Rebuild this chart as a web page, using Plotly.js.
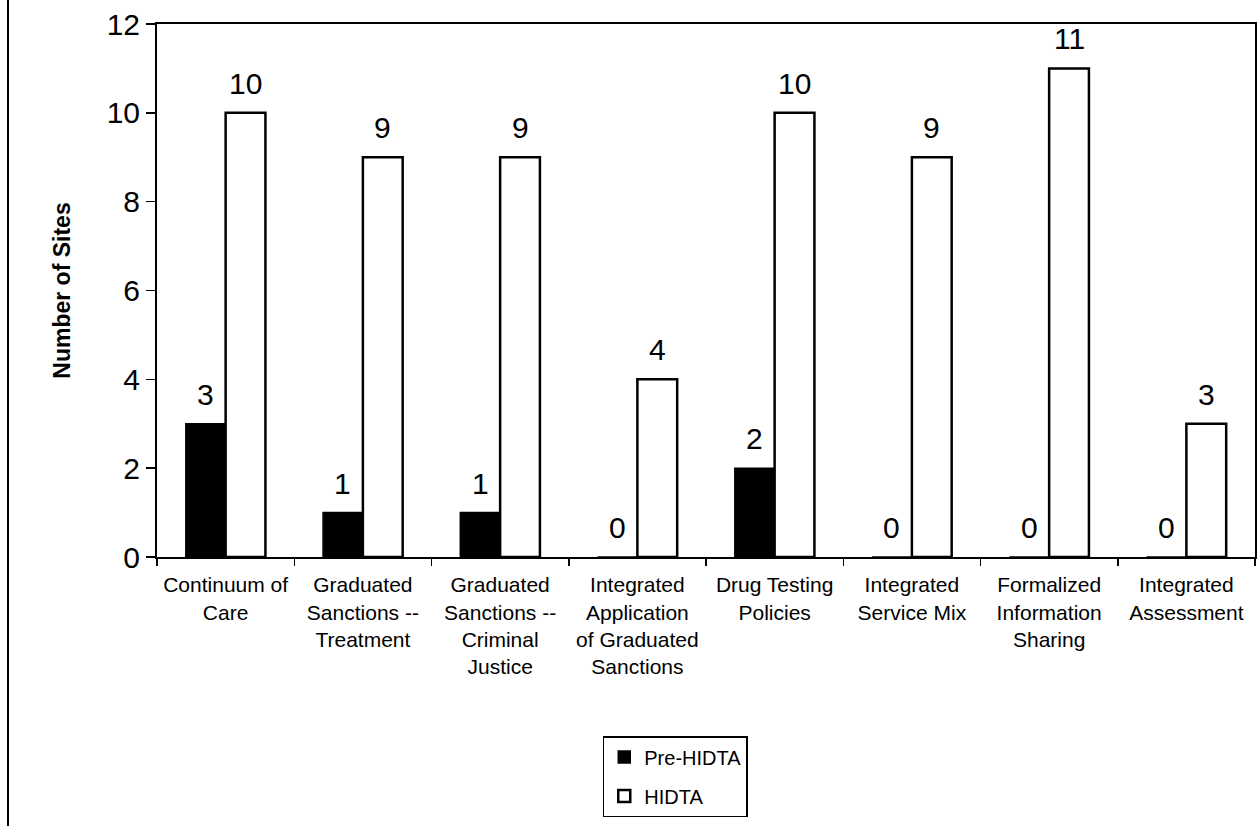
<!DOCTYPE html>
<html>
<head>
<meta charset="utf-8">
<script src="https://cdn.plot.ly/plotly-3.0.1.min.js"></script>
<style>html,body{margin:0;padding:0;background:#fff;}#chart{width:1257px;height:826px;}</style>
</head>
<body>
<div id="chart"></div>
<script>
const categories = [
  "Continuum of<br>Care",
  "Graduated<br>Sanctions --<br>Treatment",
  "Graduated<br>Sanctions --<br>Criminal<br>Justice",
  "Integrated<br>Application<br>of Graduated<br>Sanctions",
  "Drug Testing<br>Policies",
  "Integrated<br>Service Mix",
  "Formalized<br>Information<br>Sharing",
  "Integrated<br>Assessment"
];
const preHidta = [3, 1, 1, 0, 2, 0, 0, 0];
const hidta = [10, 9, 9, 4, 10, 9, 11, 3];
const seriesNames = ["Pre-HIDTA", "HIDTA"];
const yTicks = [0, 2, 4, 6, 8, 10, 12];

const FONT = "Liberation Sans, Arial, sans-serif";

const traces = [
  {
    type: "bar", name: seriesNames[0], x: categories, y: preHidta,
    legendgroup: "a",
    marker: {color: "#000", line: {color: "#000", width: 1.5}}
  },
  {
    type: "bar", name: seriesNames[1], x: categories, y: hidta,
    legendgroup: "b",
    marker: {color: "#fff", line: {color: "#000", width: 2.5}}
  }
];

// value labels, placed through the axes' own scales
const barShift = 20;
const annotations = [];
[preHidta, hidta].forEach((vals, s) => {
  vals.forEach((v, i) => {
    annotations.push({
      x: categories[i], y: v, xref: "x", yref: "y",
      text: String(v), showarrow: false,
      xanchor: "center", yanchor: "bottom",
      xshift: s === 0 ? -barShift : barShift, yshift: 11,
      font: {family: FONT, size: 30, color: "#000"}
    });
  });
});

const layout = {
  width: 1257, height: 826,
  margin: {l: 157, r: 2, t: 24, b: 269},
  paper_bgcolor: "#fff", plot_bgcolor: "#fff",
  barmode: "group", bargap: 0.42, bargroupgap: 0,
  showlegend: true,
  legend: {
    x: 0.472, xanchor: "center", y: -0.336, yanchor: "top",
    orientation: "v", traceorder: "grouped", tracegroupgap: 10,
    bordercolor: "#000", borderwidth: 1.5, bgcolor: "#fff",
    font: {family: FONT, size: 20, color: "#000"},
    itemwidth: 30
  },
  xaxis: {
    type: "category", tickson: "boundaries",
    ticks: "outside", ticklen: 7, tickwidth: 1.5, tickcolor: "#000",
    showline: true, linecolor: "#000", linewidth: 2, mirror: true,
    showgrid: false, zeroline: false,
    tickfont: {family: FONT, size: 21, color: "#000"},
    ticklabelstandoff: 8,
    tickangle: 0, automargin: false
  },
  yaxis: {
    range: [0, 12], tickvals: yTicks, ticktext: yTicks.map(String),
    ticks: "outside", ticklen: 9, tickwidth: 1.5, tickcolor: "#000",
    showline: true, linecolor: "#000", linewidth: 2, mirror: true,
    showgrid: false, zeroline: false,
    tickfont: {family: FONT, size: 30, color: "#000"},
    title: {text: "Number of Sites", font: {family: FONT, size: 23, color: "#000", weight: "bold"}, standoff: 30},
    automargin: false
  },
  annotations: annotations,
  shapes: [
    {type: "line", xref: "paper", yref: "paper", x0: -0.1357, x1: -0.1357, y0: -0.505, y1: 1.045,
     line: {color: "#000", width: 2}}
  ]
};

Plotly.newPlot("chart", traces, layout, {staticPlot: true, displayModeBar: false});
</script>
</body>
</html>
